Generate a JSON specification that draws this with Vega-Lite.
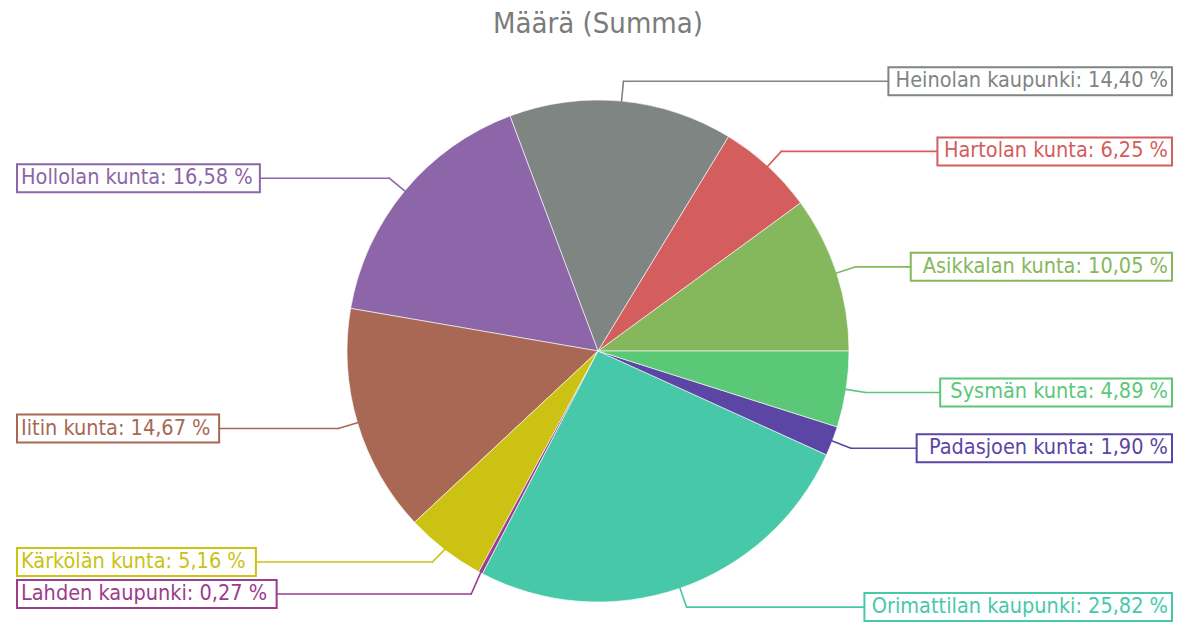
{
  "$schema": "https://vega.github.io/schema/vega-lite/v6.json",
  "width": 1160,
  "height": 540,
  "autosize": {"type": "none"},
  "padding": {"left": 18, "top": 81, "right": 0, "bottom": 1},
  "background": "white",
  "title": {
    "text": "Määrä (Summa)",
    "font": "DejaVu Sans Condensed",
    "fontSize": 29,
    "fontWeight": "normal",
    "color": "#7b7b7b",
    "anchor": "middle",
    "baseline": "alphabetic",
    "offset": 4
  },
  "config": {"view": {"stroke": null}, "font": "DejaVu Sans Condensed"},
  "data": {
    "values": [
      {"Kunta": "Asikkalan kunta", "Osuus": 10.05},
      {"Kunta": "Hartolan kunta", "Osuus": 6.25},
      {"Kunta": "Heinolan kaupunki", "Osuus": 14.40},
      {"Kunta": "Hollolan kunta", "Osuus": 16.58},
      {"Kunta": "Iitin kunta", "Osuus": 14.67},
      {"Kunta": "Kärkölän kunta", "Osuus": 5.16},
      {"Kunta": "Lahden kaupunki", "Osuus": 0.27},
      {"Kunta": "Orimattilan kaupunki", "Osuus": 25.82},
      {"Kunta": "Padasjoen kunta", "Osuus": 1.90},
      {"Kunta": "Sysmän kunta", "Osuus": 4.89}
    ]
  },
  "transform": [
    {"joinaggregate": [{"op": "sum", "field": "Osuus", "as": "total"}]},
    {"window": [{"op": "sum", "field": "Osuus", "as": "cum"}], "sort": [{"field": "Kunta", "order": "ascending"}], "frame": [null, 0]},
    {"calculate": "2*PI*(datum.cum - datum.Osuus/2)/datum.total", "as": "ang"},
    {"calculate": "datum.Kunta + ': ' + replace(format(datum.Osuus, '.2f'), '.', ',') + ' %'", "as": "label"},
    {"calculate": "cos(datum.ang) >= 0", "as": "right"},
    {"calculate": "datum.right ? 'R' : 'L'", "as": "side"},
    {"calculate": "251*cos(datum.ang)", "as": "px"},
    {"calculate": "251*sin(datum.ang)", "as": "py"},
    {"calculate": "271*cos(datum.ang)", "as": "ex"},
    {"calculate": "271*sin(datum.ang)", "as": "ey"},
    {"window": [{"op": "lag", "field": "ey", "as": "prevEy"}, {"op": "lead", "field": "ey", "as": "nextEy"}], "groupby": ["side"], "sort": [{"field": "ey", "order": "descending"}]},
    {"calculate": "datum.prevEy == null ? 0 : max(0, 32 - (datum.prevEy - datum.ey))", "as": "dp"},
    {"calculate": "datum.nextEy == null ? 0 : max(0, 32 - (datum.ey - datum.nextEy))", "as": "dn"},
    {"calculate": "datum.ey - datum.dp/2 + datum.dn/2", "as": "ly"},
    {"calculate": "21.5*(0.565*length(datum.label) - 0.29*length(replace(datum.label, regexp('[^iIlj:, ]', 'g'), '')) - 0.2*length(replace(datum.label, regexp('[^tr]', 'g'), '')) + 0.31*length(replace(datum.label, regexp('[^m%]', 'g'), ''))) + 11", "as": "bw"},
    {"calculate": "datum.right ? 574 - datum.bw : -581", "as": "bx1"},
    {"calculate": "datum.right ? 574 : -581 + datum.bw", "as": "bx2"},
    {"calculate": "datum.right ? datum.bx1 : datum.bx2", "as": "lx"},
    {"calculate": "datum.ly - 14", "as": "by1"},
    {"calculate": "datum.ly + 14", "as": "by2"},
    {"calculate": "datum.right ? 570 : -577", "as": "tx"}
  ],
  "layer": [
    {
      "mark": {"type": "arc", "outerRadius": 251, "stroke": "white", "strokeWidth": 1, "strokeOpacity": 0.6},
      "encoding": {
        "theta": {"field": "Osuus", "type": "quantitative", "stack": true, "scale": {"range": [1.5707963, 7.8539816]}},
        "order": {"field": "Kunta", "type": "nominal", "sort": "descending"},
        "color": {
          "field": "Kunta", "type": "nominal", "legend": null,
          "scale": {
            "domain": ["Asikkalan kunta", "Hartolan kunta", "Heinolan kaupunki", "Hollolan kunta", "Iitin kunta", "Kärkölän kunta", "Lahden kaupunki", "Orimattilan kaupunki", "Padasjoen kunta", "Sysmän kunta"],
            "range": ["#85b85c", "#d45d5d", "#7f8583", "#8c66a8", "#a86853", "#cbc213", "#9c3c8c", "#47c9a9", "#5b45a5", "#5bc878"]
          }
        }
      }
    },
    {
      "mark": {"type": "rule", "strokeWidth": 1.6, "strokeCap": "round"},
      "encoding": {
        "x": {"field": "px", "type": "quantitative", "scale": {"domain": [-580, 580], "nice": false, "zero": false}, "axis": null},
        "y": {"field": "py", "type": "quantitative", "scale": {"domain": [-270, 270], "nice": false, "zero": false}, "axis": null},
        "x2": {"field": "ex"},
        "y2": {"field": "ly"},
        "color": {"field": "Kunta", "type": "nominal", "legend": null}
      }
    },
    {
      "mark": {"type": "rule", "strokeWidth": 1.6, "strokeCap": "round"},
      "encoding": {
        "x": {"field": "ex", "type": "quantitative"},
        "y": {"field": "ly", "type": "quantitative"},
        "x2": {"field": "lx"},
        "y2": {"field": "ly"},
        "color": {"field": "Kunta", "type": "nominal", "legend": null}
      }
    },
    {
      "mark": {"type": "rect", "filled": false, "strokeWidth": 2},
      "encoding": {
        "x": {"field": "bx1", "type": "quantitative"},
        "x2": {"field": "bx2"},
        "y": {"field": "by1", "type": "quantitative"},
        "y2": {"field": "by2"},
        "color": {"field": "Kunta", "type": "nominal", "legend": null}
      }
    },
    {
      "transform": [{"filter": "datum.right"}],
      "mark": {"type": "text", "align": "right", "baseline": "middle", "fontSize": 21.5, "font": "DejaVu Sans Condensed"},
      "encoding": {
        "x": {"field": "tx", "type": "quantitative"},
        "y": {"field": "ly", "type": "quantitative"},
        "text": {"field": "label"},
        "color": {"field": "Kunta", "type": "nominal", "legend": null}
      }
    },
    {
      "transform": [{"filter": "!datum.right"}],
      "mark": {"type": "text", "align": "left", "baseline": "middle", "fontSize": 21.5, "font": "DejaVu Sans Condensed"},
      "encoding": {
        "x": {"field": "tx", "type": "quantitative"},
        "y": {"field": "ly", "type": "quantitative"},
        "text": {"field": "label"},
        "color": {"field": "Kunta", "type": "nominal", "legend": null}
      }
    }
  ]
}
